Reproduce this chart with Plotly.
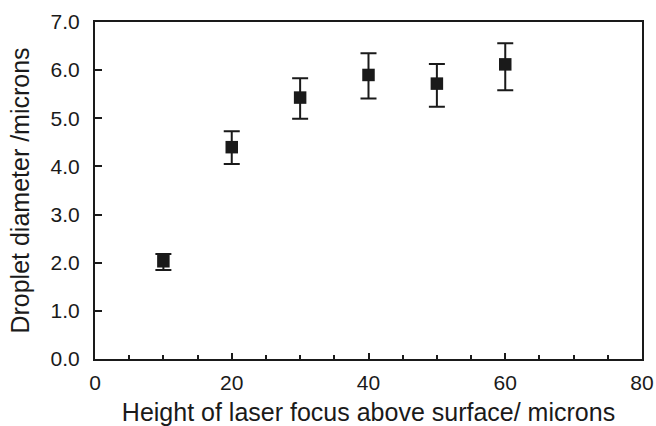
import plotly.graph_objects as go

heights = [10, 20, 30, 40, 50, 60]
diameters = [2.03, 4.40, 5.43, 5.90, 5.72, 6.12]
err_plus = [0.15, 0.33, 0.40, 0.45, 0.41, 0.44]
err_minus = [0.18, 0.35, 0.44, 0.49, 0.48, 0.54]
x_ticks = [0, 20, 40, 60, 80]
y_ticks = [0, 1, 2, 3, 4, 5, 6, 7]
y_tick_labels = ["0.0", "1.0", "2.0", "3.0", "4.0", "5.0", "6.0", "7.0"]

fig = go.Figure()
fig.add_trace(go.Scatter(
    x=heights, y=diameters, mode="markers",
    marker=dict(symbol="square", size=12.5, color="#1a1a1a"),
    error_y=dict(type="data", symmetric=False, array=err_plus, arrayminus=err_minus,
                 color="#1a1a1a", thickness=2, width=8),
    showlegend=False,
))

font = "Liberation Sans, Arial, Helvetica, sans-serif"
fig.update_layout(
    width=656, height=426,
    margin=dict(l=95, r=14, t=22, b=67),
    plot_bgcolor="white", paper_bgcolor="white",
    font=dict(family=font, color="#1a1a1a"),
    xaxis=dict(
        range=[0, 80], tickvals=x_ticks, ticks="inside", ticklen=6, tickwidth=1.5,
        tickcolor="#1a1a1a", automargin=False,
        minor=dict(dtick=5, ticks="inside", ticklen=4.5, tickwidth=1.5, tickcolor="#1a1a1a"),
        showline=True, linecolor="#1a1a1a", linewidth=2, mirror=True, showgrid=False, zeroline=False,
        tickfont=dict(size=21), ticklabelstandoff=4,
        title=dict(text="Height of laser focus above surface/ microns", font=dict(size=25), standoff=14),
    ),
    yaxis=dict(
        range=[0, 7], tickvals=y_ticks, ticktext=y_tick_labels,
        ticks="inside", ticklen=7, tickwidth=1.5, tickcolor="#1a1a1a", automargin=False,
        showline=True, linecolor="#1a1a1a", linewidth=2, mirror=True, showgrid=False, zeroline=False,
        tickfont=dict(size=21), ticklabelstandoff=9,
        title=dict(text="Droplet diameter /microns", font=dict(size=25), standoff=14),
    ),
)
fig.write_html(
    "out.html",
    config={"displayModeBar": False},
    post_script="document.body.style.margin='0';document.body.style.overflow='hidden';",
)
